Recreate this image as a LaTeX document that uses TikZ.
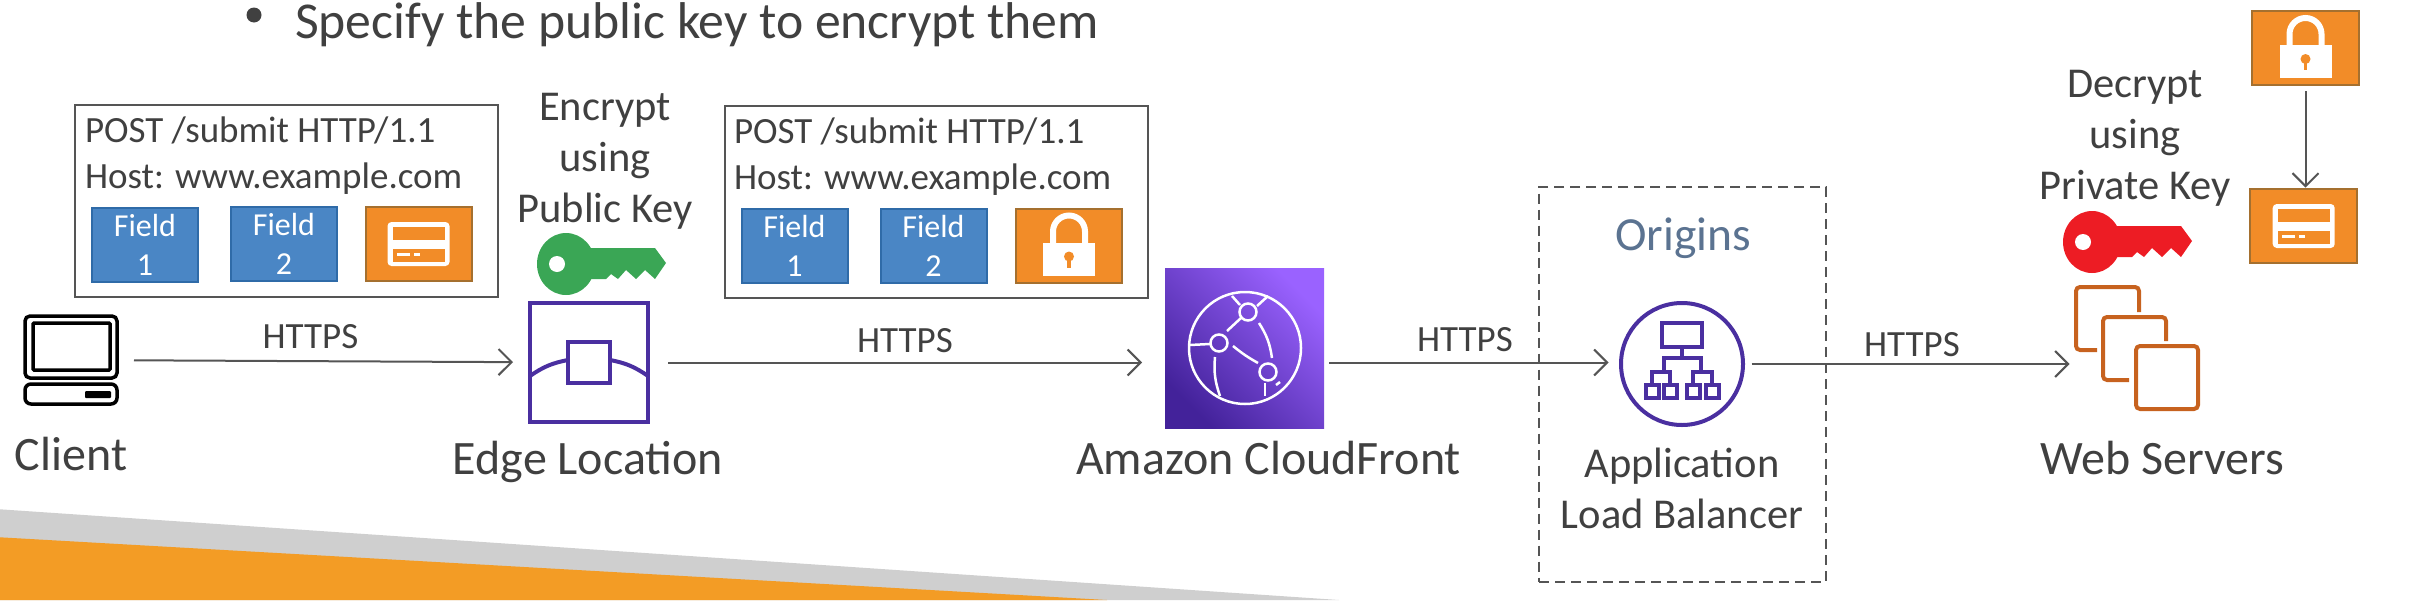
\documentclass[tikz,border=0pt]{standalone}
\usepackage{fontspec}
\setmainfont{Carlito}
\usetikzlibrary{positioning,calc,arrows.meta,shapes}
\definecolor{inktext}{HTML}{404040}
\definecolor{inkline}{HTML}{555555}
\definecolor{fieldblue}{HTML}{4A86C5}
\definecolor{fieldedge}{HTML}{2F6BA8}
\definecolor{cipherorange}{HTML}{F28C28}
\definecolor{cipheredge}{HTML}{A5702F}
\definecolor{edgepurple}{HTML}{4A2FA0}
\definecolor{clouddark}{HTML}{43229A}
\definecolor{cloudlight}{HTML}{9A62FF}
\definecolor{serverorange}{HTML}{C7621F}
\definecolor{keygreen}{HTML}{3AA655}
\definecolor{keyred}{HTML}{ED1C24}
\definecolor{originblue}{HTML}{5B7391}
\definecolor{bandgrey}{HTML}{CFCFCF}
\definecolor{bandorange}{HTML}{F39C25}
\tikzset{
  pics/keyicon/.style={code={
    \fill[#1] (0,0) ellipse [x radius=29, y radius=31];
    \fill[#1] (20,-16) -- (89,-16) -- (100,-1) -- (89,15) -- (79,6) -- (70,15) -- (60,6)
      -- (52,15) -- (45,10) -- (40,15) -- (20,15) -- cycle;
    \fill[white] (-9,0) circle [radius=8];
  }},
  pics/cardicon/.style={code={
    \fill[white, rounded corners=4] (-31,-22) rectangle (31,22);
    \fill[cipherorange] (-26,-17) rectangle (26,-4);
    \fill[cipherorange] (-26,5) rectangle (26,18);
    \fill[white] (-22,9) rectangle (-9,12);
    \fill[white] (-5,9) rectangle (1,12);
  }},
  pics/lockicon/.style={code={
    \draw[white, line width=6] (-16,0) -- (-16,-14) arc [start angle=180, end angle=360, radius=16] -- (16,0);
    \fill[white] (-26,-3) rectangle (26,30);
    \fill[cipherorange] (0,11) circle [radius=5];
    \draw[cipherorange, line width=3.5] (0,12) -- (0,22);
  }}
}
\begin{document}
\begin{tikzpicture}[x=1pt, y=-1pt, >={Straight Barb[length=13pt,width=26pt,line width=2pt]},
        every node/.append style={inner sep=0pt, outer sep=0pt, text=inktext}]
      \tikzstyle{big} = [font=\fontsize{48}{50}\selectfont]
      \tikzstyle{mid} = [font=\fontsize{42.5}{51}\selectfont, align=center]
      \tikzstyle{req} = [font=\fontsize{37}{45}\selectfont, anchor=base west]
      \tikzstyle{proto} = [font=\fontsize{37}{44}\selectfont, anchor=base]
      \tikzstyle{reqbox} = [draw=inkline, line width=2.5, anchor=north west]
      \tikzstyle{fieldbox} = [rectangle, draw=fieldedge, fill=fieldblue, line width=2, minimum width=106,
        minimum height=74, text=white, align=center, font=\fontsize{32}{39}\selectfont]
      \tikzstyle{cipherbox} = [rectangle, draw=cipheredge, fill=cipherorange, line width=2, minimum width=106, minimum height=74]
      \tikzstyle{link} = [draw=inkline, line width=2, ->]
      \useasboundingbox (0,0) rectangle (2418,600);
      \fill[bandgrey] (0,509.3) -- (1339,600) -- (0,600) -- cycle;
      \fill[bandorange] (0,537.3) -- (1107,600) -- (0,600) -- cycle;

      \node (dot) [circle, fill=inktext, minimum size=15] at (254,15) {};
      \node (intro) [anchor=base west, font=\fontsize{51.7}{60}\selectfont] at (295,38) {Specify the public key to encrypt them};

      \node (reqA) [reqbox, minimum width=423, minimum height=192] at (75,105) {};
      \node (postA) [req] at (85,142) {POST /submit HTTP/1.1};
      \node (hostA) [req] at (85,188) {Host: www.example.com};
      \node (fieldAa) [fieldbox] at (145,244.5) {Field\\1};
      \node (fieldAb) [fieldbox] at (284,244) {Field\\2};
      \node (plainA) [cipherbox] at (418.5,244) {};
      \pic at (plainA) {cardicon};

      \node (reqB) [reqbox, minimum width=423, minimum height=192] at (725,106) {};
      \node (postB) [req] at (734,143.5) {POST /submit HTTP/1.1};
      \node (hostB) [req] at (734,189) {Host: www.example.com};
      \node (fieldBa) [fieldbox] at (794.5,245.5) {Field\\1};
      \node (fieldBb) [fieldbox] at (933.5,245.5) {Field\\2};
      \node (lockA) [cipherbox] at (1069,245.5) {};
      \pic at (lockA) {lockicon};

      \node (encrypt) [mid] at (605,161) {Encrypt\\using\\Public Key};
      \pic at (566,264) {keyicon=keygreen};

      \node (client) [minimum width=92, minimum height=88] at (71,360) {};
      \draw[black, line width=3.5, rounded corners=5] (25,316) rectangle (117,378);
      \draw[black, line width=3.5, rounded corners=1] (33,323) rectangle (110,370);
      \draw[black, line width=3.5, rounded corners=6] (25,384) rectangle (117,404);
      \fill[black, rounded corners=1] (85,391) rectangle (111,398);
      \node (clientname) [big, anchor=base] at (71,470) {Client};

      \node (edge) [rectangle, draw=edgepurple, line width=4, minimum width=118, minimum height=119] at (589,362.5) {};
      \node (edgecore) [rectangle, draw=edgepurple, line width=4, minimum width=42, minimum height=41] at (589,362.5) {};
      \draw[edgepurple, line width=4] (edge.west |- 0,376) to [bend left=12] (edgecore.west |- 0,360);
      \draw[edgepurple, line width=4] (edgecore.east |- 0,360) to [bend left=12] (edge.east |- 0,376);
      \node (edgename) [big, anchor=base] at (588,474.5) {Edge Location};

      \node (cloudfront) [rectangle, minimum width=159, minimum height=160, left color=clouddark,
        right color=cloudlight, shading angle=135] at (1244.5,348) {};
      \draw[white, line width=2.5] (1245,348) circle [radius=56];
      \foreach \px/\py in {1248/312, 1219/343, 1268/372}
        \draw[white, line width=2.5] (\px,\py) circle [radius=8.5];
      \draw[white, line width=2.5] (1241,318) -- (1227,331);
      \draw[white, line width=2.5] (1233,346) to [bend right=5] (1258,363);
      \draw[white, line width=2.5] (1259,323) to [bend left=12] (1272,358);
      \draw[white, line width=2.5] (1215,357) to [bend right=12] (1220,396);
      \draw[white, line width=2.5] (1190,345) -- (1210,344);
      \draw[white, line width=2.5] (1232,296) -- (1240,305);
      \draw[white, line width=2.5] (1257,306) -- (1268,296);
      \draw[white, line width=2.5] (1265,383) -- (1265,396);
      \draw[white, line width=2.5] (1276,385) -- (1280,382);
      \node (cloudname) [big, anchor=base] at (1268.5,474.5) {Amazon CloudFront};

      \node (origins) [rectangle, draw=inkline, line width=2, dash pattern=on 10pt off 6pt, minimum width=287, minimum height=395] at (1682.5,384) {};
      \node (originsname) [anchor=base, font=\fontsize{47.5}{50}\selectfont, text=originblue] at (1683,250.5) {Origins};
      \node (alb) [circle, draw=edgepurple, line width=4, minimum size=122] at (1682,364) {};
      \draw[edgepurple, line width=3.5] (1662,323) rectangle (1702,347);
      \draw[edgepurple, line width=3.5] (1682,347) -- (1682,358) (1664,371) -- (1664,358) -- (1701,358) -- (1701,371);
      \draw[edgepurple, line width=3.5] (1652,385) -- (1652,372) -- (1670,372) -- (1670,385);
      \draw[edgepurple, line width=3.5] (1693,385) -- (1693,372) -- (1712,372) -- (1712,385);
      \foreach \sx in {1646,1664,1687,1706}
        \draw[edgepurple, line width=3.5] (\sx,385) rectangle ++(13,13);
      \node (albname) [mid] at (1682,488) {Application\\Load Balancer};

      \node (web) [minimum width=122, minimum height=122] at (2137,348) {};
      \draw[serverorange, line width=4, rounded corners=4] (2139,312) -- (2139,287) -- (2076,287) -- (2076,350) -- (2097,350);
      \draw[serverorange, line width=4, rounded corners=4] (2166,341) -- (2166,317) -- (2103,317) -- (2103,380) -- (2129,380);
      \draw[serverorange, line width=4, rounded corners=4] (2136,346) rectangle (2198,409);
      \node (webname) [big, anchor=base] at (2162.5,474.5) {Web Servers};

      \node (decrypt) [mid] at (2135,138) {Decrypt\\using\\Private Key};
      \pic at (2092,242) {keyicon=keyred};

      \node (lockB) [cipherbox, minimum width=107] at (2305.5,48) {};
      \pic at (lockB) {lockicon};
      \node (plainB) [cipherbox, minimum width=107] at (2303.7,226) {};
      \pic at (plainB) {cardicon};

      \draw[link, shorten <=17pt, shorten >=17pt] (client) -- (edge);
      \node (httpsA) [proto] at (310.5,348) {HTTPS};
      \draw[link, shorten <=20pt, shorten >=23pt] (edge) -- (edge -| cloudfront.west);
      \node (httpsB) [proto] at (905,352) {HTTPS};
      \draw[link, shorten <=5pt, shorten >=12.5pt] (cloudfront.east |- edge) -- (alb.west |- edge);
      \node (httpsC) [proto] at (1465,351) {HTTPS};
      \draw[link, shorten <=8.5pt, shorten >=6.5pt] (alb) -- (alb -| web.west);
      \node (httpsD) [proto] at (1912,356.7) {HTTPS};
      \draw[link, shorten <=6pt, shorten >=1.4pt] (lockB) -- (lockB |- plainB.north);
    \end{tikzpicture}
\end{document}
